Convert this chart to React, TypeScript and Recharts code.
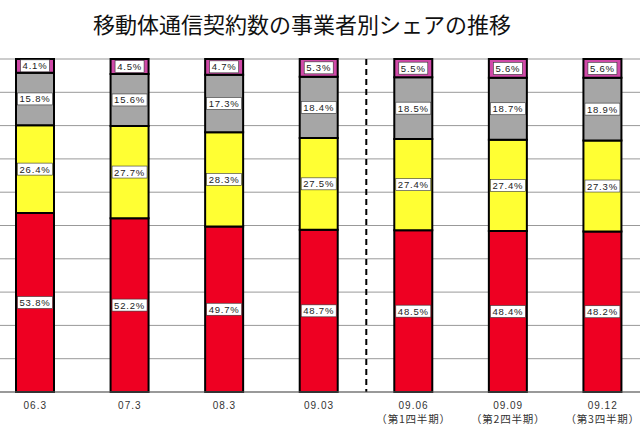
import React from "react";
import { Bar, BarChart, CartesianGrid, LabelList, ReferenceArea, XAxis, YAxis } from "recharts";

const RED = "#ee0022";
const YELLOW = "#ffff33";
const GRAY = "#a6a6a6";
const MAGENTA = "#d04aa8";

const periods = ["06.3", "07.3", "08.3", "09.03", "09.06", "09.09", "09.12"];
const quarters = ["", "", "", "", "（第1四半期）", "（第2四半期）", "（第3四半期）"];
const docomo = [53.8, 52.2, 49.7, 48.7, 48.5, 48.4, 48.2];
const au = [26.4, 27.7, 28.3, 27.5, 27.4, 27.4, 27.3];
const softbank = [15.8, 15.6, 17.3, 18.4, 18.5, 18.7, 18.9];
const emobile = [4.1, 4.5, 4.7, 5.3, 5.5, 5.6, 5.6];
const yTicks = [0, 0.1, 0.2, 0.3, 0.4, 0.5, 0.6, 0.7, 0.8, 0.9, 1];

const data = periods.map((p, i) => ({
  period: p,
  quarter: quarters[i],
  docomo: docomo[i],
  au: au[i],
  softbank: softbank[i],
  emobile: emobile[i],
}));

const LABEL_FONT = "'Liberation Sans', Arial, sans-serif";

function PctLabel(props: any) {
  const { x, y, width, height, value } = props;
  const text = `${value.toFixed(1)}%`;
  const w = text.length > 4 ? 35 : 29;
  const cx = x + width / 2;
  const cy = y + height / 2;
  return (
    <g>
      <rect x={cx - w / 2} y={cy - 6} width={w} height={12} fill="#fff" stroke="#333" strokeWidth={0.6} />
      <text
        x={cx}
        y={cy + 3.5}
        textAnchor="middle"
        fontFamily={LABEL_FONT}
        fontSize={9.5}
        letterSpacing={0.8}
        fill="#222"
      >
        {text}
      </text>
    </g>
  );
}

function PeriodTick(props: any) {
  const { x, y, payload, index } = props;
  const q = quarters[index];
  return (
    <g>
      <text x={x} y={y + 9} textAnchor="middle" fontFamily={LABEL_FONT} fontSize={10} letterSpacing={1} fill="#333">
        {payload.value}
      </text>
      {q && (
        <text
          x={x}
          y={y + 23}
          textAnchor="middle"
          fontFamily="'Noto Sans CJK JP', sans-serif"
          fontSize={10.5}
          letterSpacing={0.8}
          fill="#333"
        >
          {q}
        </text>
      )}
    </g>
  );
}

function DashedDivider(props: any) {
  const { x, y, width, height } = props;
  const mx = x + width / 2;
  return <line x1={mx} x2={mx} y1={y} y2={y + height} stroke="#000" strokeWidth={2} strokeDasharray="6 4" />;
}

export default function App() {
  return (
    <div style={{ position: "fixed", left: 0, top: 0, width: 640, height: 426, overflow: "hidden", background: "#fff" }}>
      <div
        style={{
          position: "absolute",
          left: 0,
          width: 604,
          top: 8,
          textAlign: "center",
          fontFamily: "'Noto Sans CJK JP', sans-serif",
          fontSize: 22,
          lineHeight: "30px",
          color: "#111",
        }}
      >
        移動体通信契約数の事業者別シェアの推移
      </div>
      <div style={{ position: "absolute", left: -12, top: 0 }}>
        <BarChart
          width={662}
          height={426}
          data={data}
          stackOffset="expand"
          margin={{ top: 59, right: 0, bottom: 0, left: 0 }}
        >
          <CartesianGrid vertical={false} stroke="#999" strokeWidth={1} />
          <YAxis hide domain={[0, 1]} ticks={yTicks} />
          <XAxis
            dataKey="period"
            height={34}
            tickLine={false}
            axisLine={{ stroke: "#666" }}
            tick={<PeriodTick />}
            interval={0}
          />
          <ReferenceArea x1="09.03" x2="09.06" shape={<DashedDivider />} ifOverflow="visible" />
          <Bar dataKey="docomo" stackId="s" fill={RED} stroke="#000" strokeWidth={2} barSize={38} isAnimationActive={false}>
            <LabelList dataKey="docomo" content={<PctLabel />} />
          </Bar>
          <Bar dataKey="au" stackId="s" fill={YELLOW} stroke="#000" strokeWidth={2} barSize={38} isAnimationActive={false}>
            <LabelList dataKey="au" content={<PctLabel />} />
          </Bar>
          <Bar dataKey="softbank" stackId="s" fill={GRAY} stroke="#000" strokeWidth={2} barSize={38} isAnimationActive={false}>
            <LabelList dataKey="softbank" content={<PctLabel />} />
          </Bar>
          <Bar dataKey="emobile" stackId="s" fill={MAGENTA} stroke="#000" strokeWidth={2} barSize={38} isAnimationActive={false}>
            <LabelList dataKey="emobile" content={<PctLabel />} />
          </Bar>
        </BarChart>
      </div>
    </div>
  );
}
